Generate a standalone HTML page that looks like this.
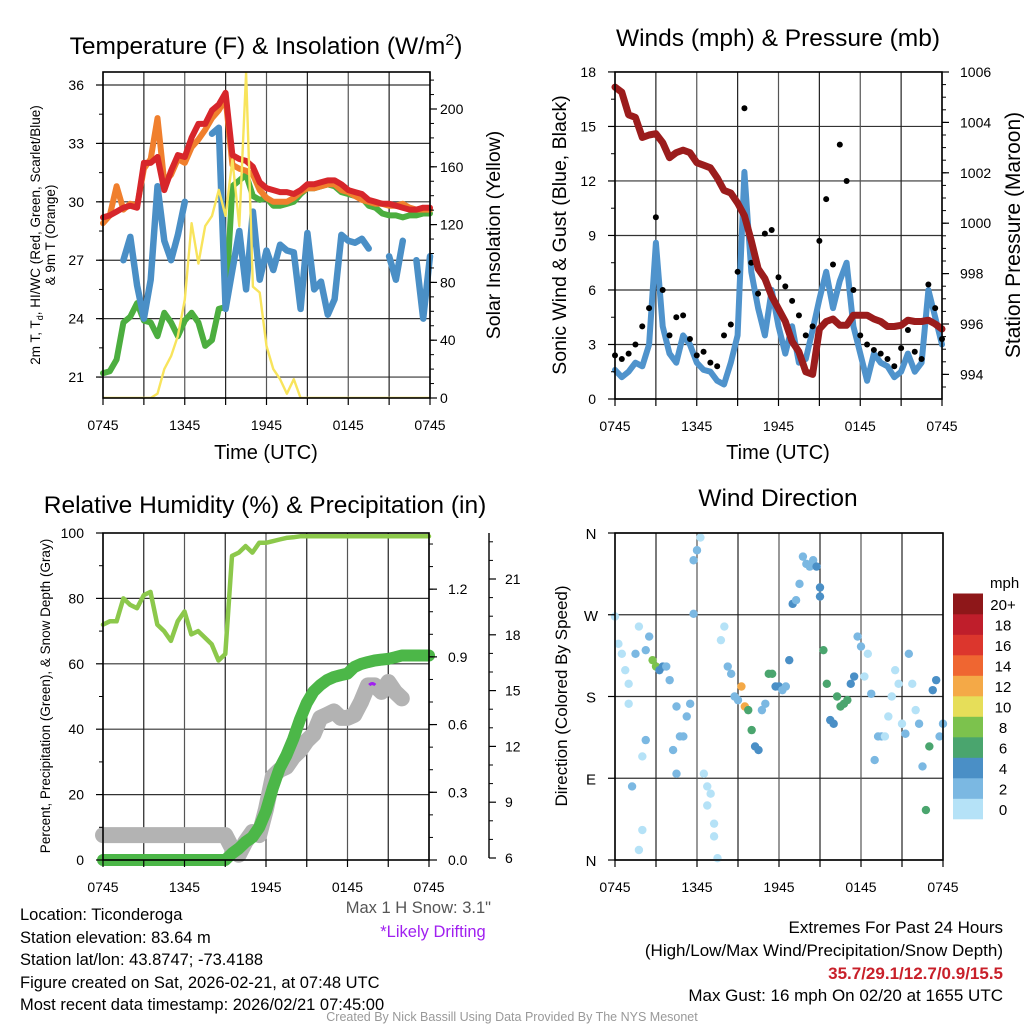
<!DOCTYPE html>
<html><head><meta charset="utf-8"><style>
body{margin:0;background:#fff}
svg{display:block;font-family:"Liberation Sans",Arial,sans-serif}
</style></head><body>
<svg id="fig" width="1024" height="1024" viewBox="0 0 1024 1024">
<rect width="1024" height="1024" fill="#fff"/>
<g id="grid"></g><g id="series"></g><g id="axes"></g>
<text x="266" y="54" font-size="24.5" text-anchor="middle">Temperature (F) &amp; Insolation (W/m<tspan dy="-9" font-size="16">2</tspan><tspan dy="9">)</tspan></text>
<text x="778" y="46" font-size="24.5" text-anchor="middle">Winds (mph) &amp; Pressure (mb)</text>
<text x="265" y="513" font-size="24.5" text-anchor="middle">Relative Humidity (%) &amp; Precipitation (in)</text>
<text x="778" y="506" font-size="24.5" text-anchor="middle">Wind Direction</text>
<text x="266" y="459" font-size="20" text-anchor="middle">Time (UTC)</text>
<text x="778" y="459" font-size="20" text-anchor="middle">Time (UTC)</text>
<text transform="translate(40,235) rotate(-90)" font-size="13.5" text-anchor="middle">2m T, T<tspan dy="3" font-size="9">d</tspan><tspan dy="-3">, HI/WC (Red, Green, Scarlet/Blue)</tspan></text>
<text transform="translate(55,235) rotate(-90)" font-size="13.5" text-anchor="middle">&amp; 9m T (Orange)</text>
<text transform="translate(500,235) rotate(-90)" font-size="19.5" text-anchor="middle">Solar Insolation (Yellow)</text>
<text transform="translate(566,235) rotate(-90)" font-size="19.5" text-anchor="middle">Sonic Wind &amp; Gust (Blue, Black)</text>
<text transform="translate(1020,235) rotate(-90)" font-size="21" text-anchor="middle">Station Pressure (Maroon)</text>
<text transform="translate(50,696) rotate(-90)" font-size="13.5" text-anchor="middle">Percent, Precipitation (Green), &amp; Snow Depth (Gray)</text>
<text transform="translate(567,696) rotate(-90)" font-size="17" text-anchor="middle">Direction (Colored By Speed)</text>
<text x="990" y="588" font-size="15" text-anchor="start">mph</text>
<g id="cbar"></g>
<g font-size="16.5">
<text x="20" y="920">Location: Ticonderoga</text>
<text x="20" y="943">Station elevation: 83.64 m</text>
<text x="20" y="965">Station lat/lon: 43.8747; -73.4188</text>
<text x="20" y="988">Figure created on Sat, 2026-02-21, at 07:48 UTC</text>
<text x="20" y="1010">Most recent data timestamp: 2026/02/21 07:45:00</text>
</g>
<text x="491" y="913" font-size="16.5" fill="#555" text-anchor="end">Max 1 H Snow: 3.1"</text>
<text x="433" y="937" font-size="16.5" fill="#a020f0" text-anchor="middle">*Likely Drifting</text>
<g font-size="17" text-anchor="end">
<text x="1003" y="933">Extremes For Past 24 Hours</text>
<text x="1003" y="956">(High/Low/Max Wind/Precipitation/Snow Depth)</text>
<text x="1003" y="979" fill="#c8202a" font-weight="bold">35.7/29.1/12.7/0.9/15.5</text>
<text x="1003" y="1001">Max Gust: 16 mph On 02/20 at 1655 UTC</text>
</g>
<text x="512" y="1021" font-size="12.5" fill="#999" text-anchor="middle">Created By Nick Bassill Using Data Provided By The NYS Mesonet</text>
</svg>
<script>
const HOURS_LABELS=["0745","1345","1945","0145","0745"];
const T_TICKS=[21,24,27,30,33,36];
const SOLAR_TICKS=[0,40,80,120,160,200];
const WIND_TICKS=[0,3,6,9,12,15,18];
const PRES_TICKS=[994,996,998,1000,1002,1004,1006];
const RH_TICKS=[0,20,40,60,80,100];
const PRECIP_TICKS=["0.0","0.3","0.6","0.9","1.2"];
const SNOW_TICKS=[6,9,12,15,18,21];
const DIR_TICKS=["N","E","S","W","N"];
const SPEED_BINS=["0","2","4","6","8","10","12","14","16","18","20+"];
const SPEED_COLORS=["#b5e2f7","#7bb8e2","#4a8fc6","#4aa56e","#7cc24d","#e6de59","#f4a947","#ef6631","#dc362d","#bf1e2b","#8e1719"];
// half-hourly series (0745 -> 0745)
const T_RED=[29.2,29.3,29.5,29.7,29.8,29.7,32.0,32.0,32.3,30.6,31.6,32.4,32.3,33.3,34.0,34.0,34.7,35.0,35.6,32.4,32.2,32.1,31.8,31.0,30.7,30.6,30.5,30.5,30.4,30.6,30.9,30.9,31.0,31.1,31.1,30.9,30.6,30.5,30.4,30.1,30.0,29.9,29.9,29.8,29.7,29.6,29.6,29.7,29.7];
const T_ORANGE=[28.9,29.3,30.8,29.6,29.9,29.8,31.7,32.2,34.3,31.0,31.4,32.2,32.0,32.8,33.2,33.7,34.3,34.7,35.3,31.9,31.7,31.6,31.4,30.6,30.2,30.0,30.0,30.0,30.2,30.5,30.7,30.7,30.8,30.9,30.9,30.6,30.5,30.3,30.1,30.0,29.9,29.9,29.8,29.8,29.9,29.7,29.6,29.6,29.6];
const T_GREEN=[21.2,21.3,21.9,23.8,24.1,24.8,23.9,23.8,23.1,24.3,23.8,23.1,23.9,24.3,23.8,22.6,22.9,24.5,24.6,30.8,31.1,31.4,30.3,30.1,30.2,29.8,29.8,29.9,30.0,30.4,30.7,30.7,30.8,30.9,30.8,30.5,30.4,30.3,30.2,29.8,29.7,29.4,29.3,29.3,29.2,29.3,29.3,29.4,29.4];
const T_BLUE=[null,27.8,null,27.0,28.2,25.7,24.0,26.0,30.8,28.0,27.0,28.3,30.0,null,null,null,33.5,33.8,24.5,26.5,28.5,25.5,29.5,26.0,27.5,26.5,27.8,27.5,27.4,24.5,28.4,25.5,25.9,24.2,25.0,28.3,28.0,27.9,28.1,27.6,null,null,27.2,26.0,28.0,null,27.0,24.0,27.2];
const SOLAR=[0,0,0,0,0,0,0,0,3,20,29,43,68,121,93,119,126,144,126,165,119,225,77,73,36,20,13,3,13,0,0,0,0,0,0,0,0,0,0,0,0,0,0,0,0,0,0,0,0];
const PRESSURE=[1005.4,1005.2,1004.3,1004.2,1003.4,1003.5,1003.55,1003.2,1002.6,1002.8,1002.9,1002.8,1002.4,1002.3,1002.2,1001.8,1001.3,1001.2,1000.8,1000.3,999.3,998.2,997.8,997.1,996.6,996.1,995.3,994.9,994.1,994.0,995.8,996.1,996.2,995.95,995.95,996.35,996.35,996.35,996.2,996.1,995.9,995.9,995.95,996.15,996.1,996.1,996.15,996.0,995.8];
const WIND=[1.6,1.2,1.5,2.0,1.8,3.0,8.6,4.0,2.5,2.0,3.5,3.0,2.0,1.6,1.5,1.0,0.8,2.0,3.5,12.5,7.0,5.0,3.5,6.0,4.0,2.5,4.0,2.0,2.2,3.8,5.5,7.0,5.0,6.5,7.5,4.0,2.5,1.0,2.5,2.0,1.8,1.2,1.5,2.5,1.5,2.0,6.0,4.5,3.0];
const GUST=[2.4,2.2,2.5,3.0,4.0,5.0,10.0,6.0,3.5,4.5,4.6,3.3,2.4,2.6,2.0,1.8,3.5,4.1,7.0,16.0,7.5,5.8,9.1,9.3,6.7,6.2,5.4,4.6,3.5,4.0,8.7,11.0,7.4,14.0,12.0,6.0,3.5,3.0,2.7,2.5,2.2,1.8,2.8,3.8,2.6,2.2,6.3,5.0,3.3];
const RH=[72,73,73,80,78,77,81,82,72,70,67,73,76,69,70,68,66,61,63,93,94,96,94,97,97,97.5,98,98.5,98.7,99,99,99,99,99,99,99,99,99,99,99,99,99,99,99,99,99,99,99,99];
const PRECIP=[0,0,0,0,0,0,0,0,0,0,0,0,0,0,0,0,0,0,0,0.029,0.051,0.080,0.101,0.145,0.217,0.319,0.406,0.464,0.536,0.623,0.696,0.746,0.775,0.797,0.811,0.819,0.826,0.855,0.869,0.877,0.884,0.888,0.891,0.898,0.906,0.906,0.906,0.906,0.906];
const SNOW=[7.23,7.23,7.23,7.23,7.23,7.23,7.23,7.23,7.23,7.23,7.23,7.23,7.23,7.23,7.23,7.23,7.23,7.23,7.23,6.53,6.18,6.88,7.4,7.23,8.63,10.38,10.73,10.9,11.43,11.78,12.3,12.65,13.53,13.7,13.88,13.53,13.53,13.7,14.4,15.28,15.28,14.93,15.46,14.93,14.58,null,null,null,null];
// quarter-hourly wind direction (deg)
const DIRECTION=[268,238,227,209,194,81,227,257,114,132,246,220,213,209,213,213,198,121,95,136,136,158,172,271,341,355,95,81,73,26,2,242,257,213,205,180,176,191,169,165,143,125,121,165,172,205,205,191,191,187,191,220,282,286,304,334,326,323,330,323,290,231,194,154,150,180,169,172,176,194,202,246,235,202,227,183,110,136,136,136,158,180,209,194,150,139,227,194,165,150,103,55,125,187,198,136,150];
const DIRECTION_EXTRA=[[1,172],[1.75,11],[2,33],[2.25,231],[4.5,169],[5.75,330],[6.75,60],[7.25,40],[15,300]];

const NS="http://www.w3.org/2000/svg";
function mk(parent,tag,attrs){const e=document.createElementNS(NS,tag);for(const k in attrs)e.setAttribute(k,attrs[k]);parent.appendChild(e);return e;}
const G=document.getElementById('grid'),S=document.getElementById('series'),A=document.getElementById('axes'),CB=document.getElementById('cbar');

const P1={x0:103,x1:430,y0:72,y1:398},P2={x0:615,x1:942,y0:72,y1:399},P3={x0:103,x1:429,y0:533,y1:860},P4={x0:615,x1:943,y0:533,y1:860};
const xs=(P,h)=>P.x0+h*(P.x1-P.x0)/24;
const yT=t=>85+(36-t)*19.47, ySol=w=>398-w*1.445;
const yW=w=>399-w*18.17, yP=p=>72+(1006-p)*25.2;
const yRH=r=>860-r*3.27, yPr=i=>860-i*225.7, ySn=s=>858-(s-6)*18.6;
const yD=d=>860-d*327/360;

function path(P,arr,yf,step){let d="",pen=false;arr.forEach((v,i)=>{if(v===null){pen=false;return;}const x=xs(P,i*step),y=yf(v);d+=(pen?"L":"M")+x.toFixed(1)+" "+y.toFixed(1);pen=true;});return d;}
function line(g,x1,y1,x2,y2,st,w){return mk(g,'line',{x1,y1,x2,y2,stroke:st,'stroke-width':w});}
function txt(g,x,y,s,anchor,size){const t=mk(g,'text',{x,y,'font-size':size||14,'text-anchor':anchor||'middle'});t.textContent=s;return t;}

function vgrid(P,name){for(let k=0;k<=8;k++){const x=xs(P,k*3);const l=line(G,x,P.y0,x,P.y1,k%2?'#222':'#555',1.2);


const t=line(A,x,P.y1,x,P.y1+7,'#000',1.2);

}
HOURS_LABELS.forEach((s,i)=>{const t=txt(A,xs(P,i*6),P.y1+32,s);

});}
function frame(P,name){const r=mk(A,'rect',{x:P.x0,y:P.y0,width:P.x1-P.x0,height:P.y1-P.y0,fill:'none',stroke:'#000','stroke-width':1.6});

}
function hgrid(P,ys,name){ys.forEach(y=>{const l=line(G,P.x0,y,P.x1,y,'#333',1.2);

});}

// Panel 1
hgrid(P1,T_TICKS.map(yT),'temp');vgrid(P1,'temp');
T_TICKS.forEach(v=>{line(A,P1.x0-7,yT(v),P1.x0,yT(v),'#000',1.2);const t=txt(A,P1.x0-19,yT(v)+5,String(v),'end');

});
for(let v=19.5;v<=36.5;v+=1.5){if(yT(v)>P1.y0&&yT(v)<P1.y1)line(A,P1.x0-4,yT(v),P1.x0,yT(v),'#000',1);}
SOLAR_TICKS.forEach(v=>{line(A,P1.x1,ySol(v),P1.x1+7,ySol(v),'#000',1.2);const t=txt(A,P1.x1+10,ySol(v)+5,String(v),'start');

});
for(let v=10;v<=220;v+=10)line(A,P1.x1,ySol(v),P1.x1+4,ySol(v),'#000',1);
// Panel 2
hgrid(P2,WIND_TICKS.map(yW),'wind');vgrid(P2,'wind');
WIND_TICKS.forEach(v=>{line(A,P2.x0-7,yW(v),P2.x0,yW(v),'#000',1.2);const t=txt(A,P2.x0-19,yW(v)+5,String(v),'end');

});
for(let v=1.5;v<18;v+=3)line(A,P2.x0-4,yW(v),P2.x0,yW(v),'#000',1);
PRES_TICKS.forEach(v=>{line(A,P2.x1,yP(v),P2.x1+7,yP(v),'#000',1.2);const t=txt(A,P2.x1+18,yP(v)+5,String(v),'start');

});
for(let v=993.5;v<=1006;v+=0.5)line(A,P2.x1,yP(v),P2.x1+4,yP(v),'#000',1);
// Panel 3
hgrid(P3,[20,40,60,80].map(yRH),'rh');vgrid(P3,'rh');
RH_TICKS.forEach(v=>{line(A,P3.x0-7,yRH(v),P3.x0,yRH(v),'#000',1.2);const t=txt(A,P3.x0-19,yRH(v)+5,String(v),'end');

});
for(let v=10;v<100;v+=20)line(A,P3.x0-4,yRH(v),P3.x0,yRH(v),'#000',1);
PRECIP_TICKS.forEach(s=>{const v=parseFloat(s);line(A,P3.x1,yPr(v),P3.x1+8,yPr(v),'#000',1.2);const t=txt(A,P3.x1+19,yPr(v)+5,s,'start');

});
for(let v=0.1;v<1.45;v+=0.1)line(A,P3.x1,yPr(v),P3.x1+4,yPr(v),'#000',1);
line(A,489,533,489,858,'#000',1.4);
SNOW_TICKS.forEach(v=>{line(A,489,ySn(v),496,ySn(v),'#000',1.2);const t=txt(A,505,ySn(v)+5,String(v),'start');

});
for(let v=7;v<=23;v++)if(v%3)line(A,489,ySn(v),493,ySn(v),'#000',1);
// Panel 4
hgrid(P4,[0,90,180,270,360].map(yD),'dir');vgrid(P4,'dir');
DIR_TICKS.forEach((s,i)=>{const y=yD(i*90);line(A,P4.x0-7,y,P4.x0,y,'#000',1.2);const t=txt(A,591,y+6,s,'middle',15);

});

// ---- series
function ser(P,arr,yf,step,color,w,name){const p=mk(S,'path',{d:path(P,arr,yf,step),fill:'none',stroke:color,'stroke-width':w,'stroke-linejoin':'round','stroke-linecap':'round'});

return p;}
const clip1=mk(S,'clipPath',{id:'c1'});mk(clip1,'rect',{x:P1.x0,y:P1.y0,width:P1.x1-P1.x0,height:P1.y1-P1.y0});
ser(P1,T_GREEN,yT,0.5,'#4cae3f',6,'dewpoint-line');
ser(P1,T_BLUE,yT,0.5,'#4a8fc6',6.5,'windchill-line');
ser(P1,T_ORANGE,yT,0.5,'#f07f2d',6,'temp-9m-line');
ser(P1,T_RED,yT,0.5,'#d7262b',6,'temp-2m-line');
ser(P1,SOLAR,ySol,0.5,'#f8e45c',2.4,'solar-line').setAttribute('clip-path','url(#c1)');
ser(P2,WIND,yW,0.5,'#4f93cc',6,'wind-speed-line');
GUST.forEach((g,i)=>{const c=mk(S,'circle',{cx:xs(P2,i*0.5),cy:yW(g),r:3,fill:'#000'});

});
ser(P2,PRESSURE,yP,0.5,'#9b1c1c',7,'pressure-line');
ser(P3,RH,yRH,0.5,'#8cc84b',4.5,'rh-line');
ser(P3,SNOW,ySn,0.5,'#b3b3b3',16,'snow-depth-line');
ser(P3,PRECIP,yPr,0.5,'#4cb748',12,'precip-line');
const pd=mk(S,'path',{d:`M${xs(P3,19.6)} ${yRH(53.5)} q3 -3 6 0`,fill:'none',stroke:'#a020f0','stroke-width':3});


function spdColor(w){let b=Math.min(10,Math.floor(w/2));return SPEED_COLORS[b];}
DIRECTION.forEach((d,i)=>{const h=i*0.25;const w=WIND[Math.round(h*2)];const c=mk(S,'circle',{cx:xs(P4,h),cy:yD(d),r:4.2,fill:spdColor(w)});

});
DIRECTION_EXTRA.forEach(([h,d])=>{const c=mk(S,'circle',{cx:xs(P4,h),cy:yD(d),r:4.2,fill:spdColor(WIND[Math.round(h*2)])});

});
frame(P1,'temp');frame(P2,'wind');frame(P3,'rh');frame(P4,'dir');
const segH=20.5;
SPEED_BINS.forEach((s,i)=>{const y=819-(i+1)*segH;const r=mk(CB,'rect',{x:953,y:y,width:30,height:segH+0.3,fill:SPEED_COLORS[i]});


const t=txt(CB,1003,y+segH/2+6,s,'middle',15);

});
</script>
</body></html>
